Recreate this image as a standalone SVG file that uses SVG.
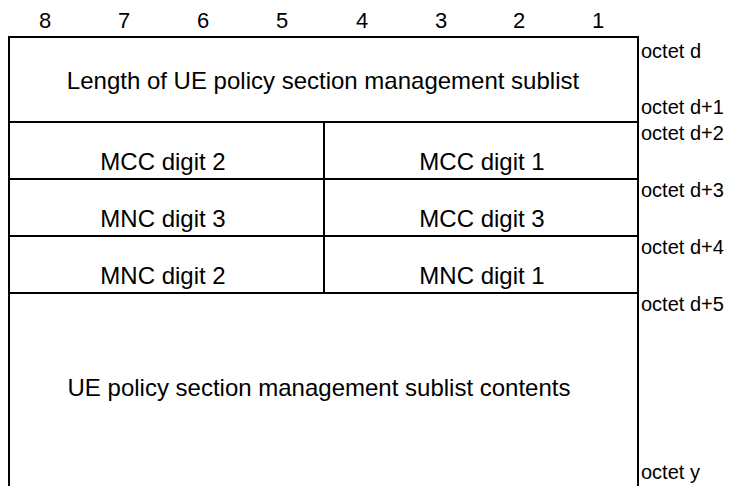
<svg xmlns="http://www.w3.org/2000/svg" width="747" height="486" viewBox="0 0 747 486">
<style>
text{font-family:"Liberation Sans",Arial,sans-serif;font-size:24px;fill:#000}
.c{text-anchor:middle}
.h{font-size:22px}
.o{font-size:20px}
line{stroke:#000;stroke-width:2}
</style>
<rect width="747" height="486" fill="#fff"/>
<g id="header">
<text class="c h" x="45" y="28">8</text>
<text class="c h" x="124" y="28">7</text>
<text class="c h" x="203" y="28">6</text>
<text class="c h" x="282" y="28">5</text>
<text class="c h" x="362" y="28">4</text>
<text class="c h" x="441" y="28">3</text>
<text class="c h" x="519" y="28">2</text>
<text class="c h" x="598" y="28">1</text>
</g>
<g id="connectors">
<line x1="8" y1="37" x2="639" y2="37"/>
<line x1="9" y1="37" x2="9" y2="486"/>
<line x1="638" y1="37" x2="638" y2="486"/>
<line x1="8" y1="122" x2="639" y2="122"/>
<line x1="8" y1="179" x2="639" y2="179"/>
<line x1="8" y1="236" x2="639" y2="236"/>
<line x1="8" y1="293" x2="639" y2="293"/>
<line x1="324" y1="122" x2="324" y2="293"/>
</g>
<g id="length"><text class="c" x="323" y="89">Length of UE policy section management sublist</text></g>
<g id="mcc2"><text class="c" x="163" y="170">MCC digit 2</text></g>
<g id="mcc1"><text class="c" x="482" y="170">MCC digit 1</text></g>
<g id="mnc3"><text class="c" x="163" y="227">MNC digit 3</text></g>
<g id="mcc3"><text class="c" x="482" y="227">MCC digit 3</text></g>
<g id="mnc2"><text class="c" x="163" y="284">MNC digit 2</text></g>
<g id="mnc1"><text class="c" x="482" y="284">MNC digit 1</text></g>
<g id="contents"><text class="c" x="319" y="396">UE policy section management sublist contents</text></g>
<g id="octets">
<text class="o" x="641" y="58">octet d</text>
<text class="o" x="641" y="114">octet d+1</text>
<text class="o" x="641" y="140">octet d+2</text>
<text class="o" x="641" y="197">octet d+3</text>
<text class="o" x="641" y="254">octet d+4</text>
<text class="o" x="641" y="311">octet d+5</text>
<text class="o" x="641" y="479">octet y</text>
</g>
</svg>
